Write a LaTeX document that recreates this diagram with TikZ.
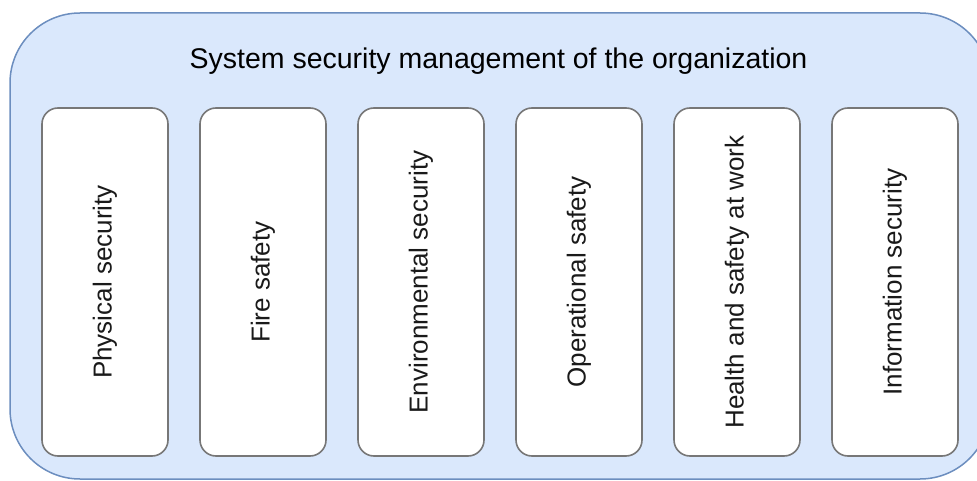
\documentclass[tikz,border=0pt]{standalone}
\usepackage{fontspec}
\setmainfont{Liberation Sans}
\usepackage{tikz}
\usetikzlibrary{positioning}

\definecolor{outerfill}{HTML}{DAE8FC}
\definecolor{outerline}{HTML}{6C8EBF}
\definecolor{innerline}{HTML}{777777}
\definecolor{textcol}{HTML}{1A1A1A}

\tikzset{
  areabox/.style={draw=innerline,fill=white,line width=1.6pt,rounded corners=16pt,
    minimum width=126pt,minimum height=348pt,inner sep=0pt,outer sep=0pt},
  arealabel/.style={rotate=90,text=textcol,font=\fontsize{26}{30}\selectfont}
}

\begin{document}
\begin{tikzpicture}[x=1pt,y=-1pt]
  \useasboundingbox (0,0) rectangle (977,481);
  \clip (0,0) rectangle (977,481);
  % outer frame
  \node[draw=outerline,fill=outerfill,line width=1.5pt,rounded corners=70pt,
    minimum width=980pt,minimum height=466pt,inner sep=0pt] (frame) at (500,246) {};
  \node[font=\fontsize{28.5}{32}\selectfont] (title) at (498.5,61) {System security management of the organization};
  % the six areas
  \node[areabox] (physical) at (105,282) {};
  \node[areabox,right=32pt of physical] (fire) {};
  \node[areabox,right=32pt of fire] (environment) {};
  \node[areabox,right=32pt of environment] (operational) {};
  \node[areabox,right=32pt of operational] (health) {};
  \node[areabox,right=32pt of health] (information) {};
  \node[arealabel] (physicaltext) at (physical) {Physical security};
  \node[arealabel] (firetext) at (fire) {Fire safety};
  \node[arealabel] (environmenttext) at (environment) {Environmental security};
  \node[arealabel] (operationaltext) at (operational) {Operational safety};
  \node[arealabel] (healthtext) at (health) {Health and safety at work};
  \node[arealabel] (informationtext) at (information) {Information security};
\end{tikzpicture}
\end{document}
